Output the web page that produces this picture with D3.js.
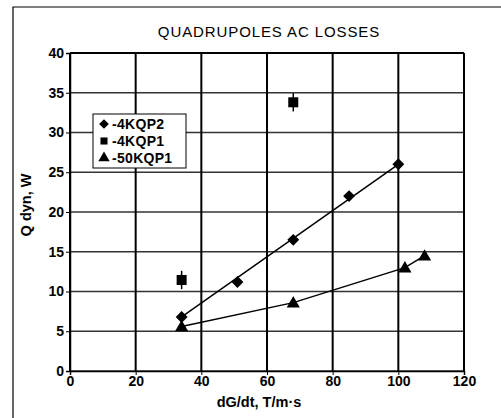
<!DOCTYPE html>
<html><head><meta charset="utf-8">
<script src="https://cdn.jsdelivr.net/npm/d3@7"></script>
<style>body{margin:0;background:#fff}svg{display:block}text{font-family:Arial,"Liberation Sans",sans-serif}</style>
</head><body><svg id="c" width="501" height="418"></svg>
<script>
const title = "QUADRUPOLES AC LOSSES";
const xLabel = "dG/dt, T/m·s";
const yLabel = "Q dyn, W";
const xTicks = [0,20,40,60,80,100,120];
const yTicks = [0,5,10,15,20,25,30,35,40];
const kqp2X = [34,51,68,85,100];
const kqp2Y = [6.8,11.2,16.5,22,26];
const kqp1X = [34,68];
const kqp1Y = [11.45,33.8];
const kqp1Err = [1.15,1.15];
const k50X = [34,68,102,108];
const k50Y = [5.6,8.6,13,14.5];
const seriesNames = ["-4KQP2","-4KQP1","-50KQP1"];

const svg = d3.select("#c");
const L=70,R=464,T=53,B=371;
const x = d3.scaleLinear().domain([0,120]).range([L,R]);
const y = d3.scaleLinear().domain([0,40]).range([B,T]);

svg.append("path").attr("d","M13,418 V7 H501").attr("fill","none").attr("stroke","#000").attr("stroke-width",1.2);

svg.append("text").attr("x",269).attr("y",37).attr("text-anchor","middle").attr("font-size",15).attr("letter-spacing",0.9).text(title);

svg.append("g").selectAll("line").data(yTicks).join("line")
  .attr("x1",L).attr("x2",R).attr("y1",d=>y(d)).attr("y2",d=>y(d))
  .attr("stroke",d=>d===40?"#000":"#333").attr("stroke-width",d=>d===40?2:1.3);
svg.append("g").selectAll("line").data(xTicks).join("line")
  .attr("y1",T).attr("y2",B).attr("x1",d=>x(d)).attr("x2",d=>x(d))
  .attr("stroke","#000").attr("stroke-width",2);

const xa = svg.append("g").attr("transform",`translate(0,${B})`)
  .call(d3.axisBottom(x).tickValues(xTicks).tickSize(4).tickPadding(1).tickFormat(d3.format("d")));
const ya = svg.append("g").attr("transform",`translate(${L},0)`)
  .call(d3.axisLeft(y).tickValues(yTicks).tickSize(4).tickPadding(2).tickFormat(d3.format("d")));
[xa,ya].forEach(a=>{a.select(".domain").attr("stroke","#000").attr("stroke-width",1.5);
  a.selectAll("text").attr("font-size",14).attr("font-weight","bold").attr("fill","#000").style("font-family","Arial");
  a.selectAll("line").attr("stroke","#000");});

svg.append("text").attr("x",259).attr("y",407).attr("text-anchor","middle").attr("font-size",14.5).attr("font-weight","bold").text(xLabel);
svg.append("text").attr("transform","translate(31,205) rotate(-90)").attr("text-anchor","middle").attr("font-size",14.5).attr("font-weight","bold").text(yLabel);

const line = d3.line().x(d=>x(d[0])).y(d=>y(d[1]));
const d2 = kqp2X.map((v,i)=>[v,kqp2Y[i]]);
const d50 = k50X.map((v,i)=>[v,k50Y[i]]);
svg.append("path").datum([d2[0],d2[d2.length-1]]).attr("d",line).attr("fill","none").attr("stroke","#000").attr("stroke-width",1.5);
svg.append("path").datum(d50).attr("d",line).attr("fill","none").attr("stroke","#000").attr("stroke-width",1.5);

const sym = (t,s)=>d3.symbol().type(t).size(s)();
svg.append("g").selectAll("path").data(d2).join("path")
  .attr("transform",d=>`translate(${x(d[0])},${y(d[1])})`).attr("d",sym(d3.symbolDiamond2,90)).attr("fill","#000");
svg.append("g").selectAll("path").data(d50).join("path")
  .attr("transform",d=>`translate(${x(d[0])},${y(d[1])+1})`).attr("d",sym(d3.symbolTriangle,75)).attr("fill","#000");
const d1 = kqp1X.map((v,i)=>[v,kqp1Y[i],kqp1Err[i]]);
const g1 = svg.append("g");
g1.selectAll("line").data(d1).join("line")
  .attr("x1",d=>x(d[0])).attr("x2",d=>x(d[0])).attr("y1",d=>y(d[1]-d[2])).attr("y2",d=>y(d[1]+d[2]))
  .attr("stroke","#000").attr("stroke-width",1.5);
g1.selectAll("rect").data(d1).join("rect")
  .attr("x",d=>x(d[0])-5).attr("y",d=>y(d[1])-5).attr("width",10).attr("height",10).attr("fill","#000");

const lg = svg.append("g");
lg.append("rect").attr("x",93).attr("y",114).attr("width",93).attr("height",54).attr("fill","#fff").attr("stroke","#000").attr("stroke-width",1);
const types=[d3.symbolDiamond2,d3.symbolSquare,d3.symbolTriangle];
const sizes=[60,50,55];
seriesNames.forEach((n,i)=>{
  const yy=124+i*17;
  lg.append("path").attr("transform",`translate(104,${yy})`).attr("d",sym(types[i],sizes[i])).attr("fill","#000");
  lg.append("text").attr("x",112).attr("y",yy+5).attr("font-size",14).attr("font-weight","bold").attr("letter-spacing",0.3).text(n);
});
</script></body></html>
